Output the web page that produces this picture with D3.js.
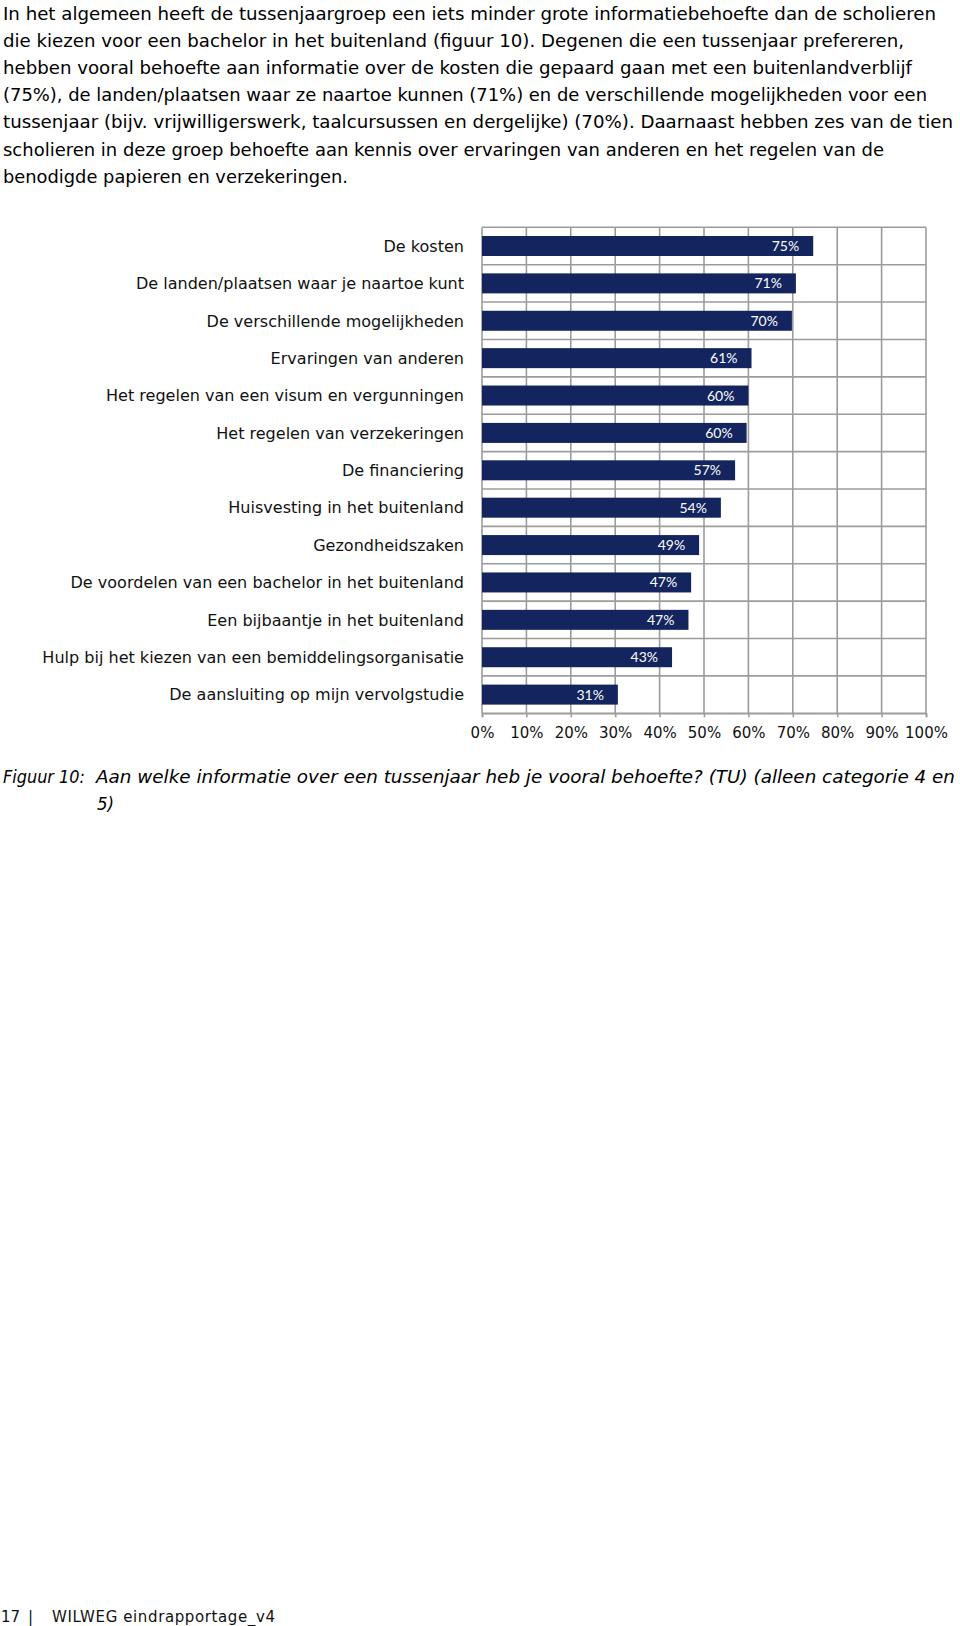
<!DOCTYPE html>
<html>
<head>
<meta charset="utf-8">
<script src="https://cdn.jsdelivr.net/npm/d3@7"></script>
<style>
  html, body { margin: 0; padding: 0; background: #fff; }
  svg { display: block; }
</style>
</head>
<body>
<script>
// ---------------- data ----------------
const paragraphLines = [
  "In het algemeen heeft de tussenjaargroep een iets minder grote informatiebehoefte dan de scholieren",
  "die kiezen voor een bachelor in het buitenland (figuur 10). Degenen die een tussenjaar prefereren,",
  "hebben vooral behoefte aan informatie over de kosten die gepaard gaan met een buitenlandverblijf",
  "(75%), de landen/plaatsen waar ze naartoe kunnen (71%) en de verschillende mogelijkheden voor een",
  "tussenjaar (bijv. vrijwilligerswerk, taalcursussen en dergelijke) (70%). Daarnaast hebben zes van de tien",
  "scholieren in deze groep behoefte aan kennis over ervaringen van anderen en het regelen van de",
  "benodigde papieren en verzekeringen."
];
const categories = [
  "De kosten",
  "De landen/plaatsen waar je naartoe kunt",
  "De verschillende mogelijkheden",
  "Ervaringen van anderen",
  "Het regelen van een visum en vergunningen",
  "Het regelen van verzekeringen",
  "De financiering",
  "Huisvesting in het buitenland",
  "Gezondheidszaken",
  "De voordelen van een bachelor in het buitenland",
  "Een bijbaantje in het buitenland",
  "Hulp bij het kiezen van een bemiddelingsorganisatie",
  "De aansluiting op mijn vervolgstudie"
];
const values = [74.6, 70.7, 69.8, 60.7, 60.0, 59.6, 57.0, 53.8, 48.9, 47.1, 46.5, 42.8, 30.6];
const valueLabels = ["75%", "71%", "70%", "61%", "60%", "60%", "57%", "54%", "49%", "47%", "47%", "43%", "31%"];
const xTicks = [0, 10, 20, 30, 40, 50, 60, 70, 80, 90, 100];
const captionLabel = "Figuur 10:";
const captionLines = [
  "Aan welke informatie over een tussenjaar heb je vooral behoefte? (TU) (alleen categorie 4 en",
  "5)"
];
const footerPage = "17";
const footerTitle = "WILWEG eindrapportage_v4";

// ---------------- layout ----------------
const W = 960, H = 1626;
const svg = d3.select("body").append("svg").attr("width", W).attr("height", H);
svg.append("rect").attr("width", W).attr("height", H).attr("fill", "#fff");

const textFont = "'DejaVu Sans', Verdana, sans-serif";
const condFont = "'DejaVu Sans Condensed', 'DejaVu Sans', Verdana, sans-serif";
const paraWidths = [933, 901, 909, 924, 950, 881, 345];

// paragraph
svg.append("g").selectAll("text").data(paragraphLines).join("text")
  .attr("x", 3)
  .attr("y", (d, i) => 19.5 + i * 27.2)
  .attr("font-family", condFont)
  .attr("font-size", 18.5)
  .attr("fill", "#000")
  .attr("textLength", (d, i) => paraWidths[i])
  .attr("lengthAdjust", "spacingAndGlyphs")
  .text(d => d);

// chart
const x = d3.scaleLinear().domain([0, 100]).range([482, 926]);
const y = d3.scaleBand().domain(categories).range([227.3, 713.3])
  .paddingInner(0.465).paddingOuter(0.2325);

const grid = svg.append("g").attr("stroke", "#9c9c9c").attr("stroke-width", 1.6);
grid.selectAll("line.v").data(xTicks).join("line")
  .attr("class", "v")
  .attr("x1", d => x(d)).attr("x2", d => x(d))
  .attr("y1", y.range()[0]).attr("y2", y.range()[1]);
grid.selectAll("line.h").data(d3.range(categories.length + 1)).join("line")
  .attr("class", "h")
  .attr("x1", x(0)).attr("x2", x(100))
  .attr("y1", i => y.range()[0] + i * y.step())
  .attr("y2", i => y.range()[0] + i * y.step());

// bars
svg.append("g").selectAll("rect").data(values).join("rect")
  .attr("x", x(0))
  .attr("y", (d, i) => y(categories[i]))
  .attr("width", d => x(d) - x(0))
  .attr("height", y.bandwidth())
  .attr("fill", "#13245f");

// value labels
svg.append("g").selectAll("text").data(values).join("text")
  .attr("x", d => x(d) - 14)
  .attr("y", (d, i) => y(categories[i]) + y.bandwidth() / 2)
  .attr("dy", "0.36em")
  .attr("text-anchor", "end")
  .attr("font-family", "Lato, 'Open Sans', sans-serif")
  .attr("font-size", 14)
  .attr("fill", "#fff")
  .text((d, i) => valueLabels[i]);

// category labels
const catG = svg.append("g");
const catTexts = catG.selectAll("text").data(categories).join("text")
  .attr("x", 464)
  .attr("y", d => y(d) + y.bandwidth() / 2)
  .attr("dy", "0.36em")
  .attr("text-anchor", "end")
  .attr("font-family", textFont)
  .attr("font-size", 15)
  .attr("fill", "#111")
  .text(d => d);
let maxW = 0;
catTexts.each(function () { maxW = Math.max(maxW, this.getComputedTextLength()); });
if (maxW > 0) catTexts.attr("font-size", 15 * 422 / maxW);

// x axis
const axis = d3.axisBottom(x).tickValues(xTicks).tickSize(4).tickPadding(10)
  .tickFormat(d => d + "%");
const ax = svg.append("g").attr("transform", `translate(0,${y.range()[1]})`).call(axis);
ax.select(".domain").attr("stroke", "#9c9c9c").attr("stroke-width", 1.6);
ax.selectAll(".tick line").attr("stroke", "#9c9c9c").attr("stroke-width", 1.6);
ax.selectAll(".tick text").attr("font-family", textFont).attr("font-size", 15).attr("fill", "#111");

// caption
const capG = svg.append("g")
  .attr("font-family", condFont).attr("font-style", "italic")
  .attr("font-size", 18.5).attr("fill", "#000");
capG.append("text").attr("x", 3).attr("y", 783)
  .attr("textLength", 82).attr("lengthAdjust", "spacingAndGlyphs").text(captionLabel);
capG.append("text").attr("x", 96).attr("y", 783)
  .attr("textLength", 859).attr("lengthAdjust", "spacingAndGlyphs").text(captionLines[0]);
capG.append("text").attr("x", 97).attr("y", 810).text(captionLines[1]);

// footer
const fG = svg.append("g").attr("font-family", textFont).attr("font-size", 15).attr("fill", "#111");
fG.append("text").attr("x", 1).attr("y", 1622).text(footerPage);
fG.append("text").attr("x", 28).attr("y", 1622).text("|");
fG.append("text").attr("x", 52).attr("y", 1622)
  .attr("textLength", 223).attr("lengthAdjust", "spacing").text(footerTitle);
</script>
</body>
</html>
